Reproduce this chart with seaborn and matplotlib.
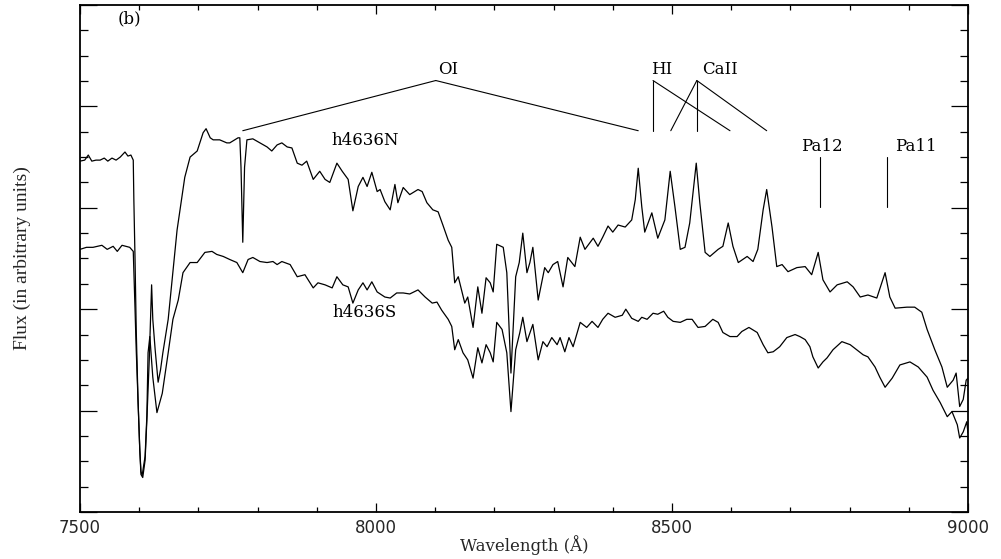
import numpy as np
import pandas as pd
import matplotlib
matplotlib.use("Agg")
import matplotlib.pyplot as plt
from matplotlib.ticker import MultipleLocator, NullFormatter
import seaborn as sns

# ---------------- data ----------------
n_wave = [7500, 7508, 7514, 7520, 7527, 7534, 7541, 7547, 7554, 7561, 7568, 7576, 7581, 7586,
          7590, 7591, 7593, 7595, 7598, 7601, 7603, 7606, 7610, 7613, 7617, 7621, 7623, 7627,
          7632, 7636, 7640, 7649, 7664, 7677, 7686, 7698, 7708, 7713, 7720, 7725, 7736, 7748,
          7753, 7767, 7770, 7772, 7775, 7778, 7782, 7792, 7804, 7816, 7824, 7833, 7841, 7850,
          7858, 7867, 7875, 7883, 7894, 7905, 7914, 7922, 7934, 7943, 7953, 7961, 7970, 7978,
          7985, 7993, 8002, 8007, 8015, 8024, 8032, 8037, 8046, 8057, 8071, 8078, 8086, 8096,
          8105, 8113, 8122, 8128, 8133, 8139, 8150, 8155, 8164, 8172, 8179, 8186, 8193, 8198,
          8204, 8215, 8221, 8228, 8236, 8242, 8248, 8255, 8260, 8265, 8274, 8285, 8291, 8299,
          8307, 8316, 8324, 8336, 8345, 8353, 8367, 8375, 8383, 8392, 8400, 8409, 8421, 8432,
          8438, 8443, 8449, 8454, 8466, 8476, 8488, 8497, 8505, 8514, 8522, 8530, 8541, 8547,
          8556, 8564, 8578, 8586, 8595, 8603, 8612, 8627, 8637, 8645, 8654, 8660, 8669, 8677,
          8686, 8696, 8711, 8725, 8736, 8747, 8755, 8767, 8779, 8796, 8806, 8818, 8831, 8846,
          8860, 8868, 8877, 8897, 8910, 8922, 8931, 8944, 8956, 8965, 8975, 8980, 8986, 8992,
          8997, 9000]
n_flux = [3.46, 3.47, 3.52, 3.46, 3.47, 3.47, 3.49, 3.46, 3.49, 3.47, 3.50, 3.55, 3.51, 3.52,
          3.47, 3.08, 2.49, 1.80, 1.11, 0.61, 0.37, 0.34, 0.51, 0.91, 1.50, 2.24, 1.90, 1.60,
          1.28, 1.40, 1.57, 1.90, 2.78, 3.30, 3.50, 3.56, 3.74, 3.78, 3.69, 3.67, 3.67, 3.64,
          3.64, 3.69, 3.69, 3.40, 2.66, 3.40, 3.67, 3.68, 3.64, 3.60, 3.56, 3.62, 3.64, 3.60,
          3.59, 3.44, 3.42, 3.46, 3.28, 3.36, 3.28, 3.25, 3.44, 3.36, 3.28, 2.97, 3.21, 3.30,
          3.21, 3.35, 3.16, 3.18, 3.06, 2.98, 3.23, 3.05, 3.20, 3.13, 3.18, 3.16, 3.05, 2.98,
          2.96, 2.83, 2.68, 2.61, 2.26, 2.32, 2.06, 2.12, 1.82, 2.22, 1.96, 2.31, 2.26, 2.17,
          2.64, 2.61, 2.36, 1.37, 2.32, 2.46, 2.75, 2.36, 2.46, 2.61, 2.09, 2.41, 2.36, 2.44,
          2.47, 2.22, 2.51, 2.42, 2.71, 2.59, 2.70, 2.62, 2.71, 2.82, 2.76, 2.83, 2.81, 2.88,
          3.08, 3.39, 3.01, 2.76, 2.95, 2.70, 2.88, 3.36, 3.01, 2.59, 2.61, 2.85, 3.44, 3.05,
          2.56, 2.52, 2.59, 2.62, 2.85, 2.62, 2.46, 2.52, 2.47, 2.59, 2.98, 3.18, 2.81, 2.42,
          2.44, 2.37, 2.41, 2.42, 2.34, 2.56, 2.29, 2.17, 2.24, 2.27, 2.22, 2.12, 2.14, 2.11,
          2.36, 2.12, 2.01, 2.02, 2.02, 1.97, 1.80, 1.60, 1.43, 1.23, 1.30, 1.37, 1.04, 1.11,
          1.30, 1.32]

s_wave = [7500, 7511, 7522, 7537, 7546, 7556, 7563, 7571, 7584, 7590, 7591, 7593, 7595, 7598,
          7601, 7603, 7605, 7610, 7613, 7615, 7618, 7623, 7630, 7639, 7649, 7657, 7666, 7674,
          7686, 7698, 7711, 7723, 7731, 7742, 7753, 7765, 7775, 7784, 7792, 7804, 7816, 7826,
          7833, 7841, 7855, 7867, 7880, 7894, 7902, 7914, 7926, 7934, 7944, 7953, 7961, 7970,
          7978, 7985, 7993, 8002, 8015, 8024, 8035, 8046, 8057, 8071, 8083, 8095, 8103, 8111,
          8122, 8128, 8133, 8139, 8147, 8155, 8164, 8172, 8179, 8186, 8193, 8198, 8204, 8213,
          8221, 8228, 8236, 8243, 8248, 8255, 8265, 8274, 8282, 8289, 8297, 8306, 8311, 8319,
          8326, 8333, 8345, 8356, 8365, 8375, 8383, 8392, 8404, 8416, 8422, 8432, 8443, 8449,
          8458, 8468, 8476, 8486, 8493, 8502, 8514, 8525, 8534, 8544, 8556, 8569, 8578, 8586,
          8598, 8610, 8618, 8630, 8644, 8654, 8662, 8671, 8682, 8694, 8708, 8716, 8725, 8733,
          8738, 8747, 8755, 8762, 8772, 8787, 8801, 8812, 8823, 8831, 8843, 8851, 8860, 8872,
          8885, 8902, 8916, 8931, 8941, 8953, 8965, 8973, 8982, 8986, 8992, 8998, 9000]
s_flux = [2.59, 2.61, 2.61, 2.63, 2.59, 2.62, 2.57, 2.63, 2.61, 2.57, 2.39, 2.00, 1.60, 1.10,
          0.62, 0.40, 0.36, 0.55, 0.95, 1.57, 1.73, 1.33, 0.98, 1.17, 1.57, 1.90, 2.09, 2.36,
          2.46, 2.46, 2.56, 2.57, 2.54, 2.52, 2.49, 2.46, 2.36, 2.49, 2.51, 2.47, 2.46, 2.47,
          2.44, 2.47, 2.44, 2.32, 2.34, 2.21, 2.26, 2.24, 2.21, 2.32, 2.24, 2.22, 2.06, 2.19,
          2.26, 2.19, 2.27, 2.17, 2.12, 2.11, 2.16, 2.16, 2.15, 2.19, 2.12, 2.06, 2.07, 1.99,
          1.90, 1.83, 1.60, 1.70, 1.57, 1.50, 1.32, 1.62, 1.47, 1.65, 1.57, 1.48, 1.87, 1.80,
          1.57, 0.99, 1.60, 1.77, 1.92, 1.68, 1.85, 1.50, 1.68, 1.63, 1.72, 1.65, 1.72, 1.58,
          1.72, 1.63, 1.87, 1.82, 1.88, 1.82, 1.90, 1.96, 1.92, 1.94, 2.00, 1.91, 1.88, 1.92,
          1.90, 1.96, 1.95, 1.98, 1.92, 1.88, 1.87, 1.90, 1.90, 1.82, 1.83, 1.90, 1.87, 1.77,
          1.73, 1.73, 1.78, 1.82, 1.77, 1.65, 1.57, 1.58, 1.63, 1.72, 1.75, 1.73, 1.70, 1.63,
          1.53, 1.42, 1.48, 1.52, 1.60, 1.68, 1.65, 1.60, 1.55, 1.53, 1.43, 1.33, 1.23, 1.32,
          1.45, 1.48, 1.43, 1.33, 1.20, 1.08, 0.94, 0.99, 0.86, 0.73, 0.79, 0.89, 0.78]

# line identifications: (label, apex wavelength, target wavelengths)
oi_label, oi_apex, oi_targets = "OI", 8101, [7775, 8443]
hi_label, hi_apex, hi_targets = "HI", 8468, [8468, 8598]
ca_label, ca_apex, ca_targets = "CaII", 8542, [8498, 8542, 8660]
pa_labels = ["Pa12", "Pa11"]
pa_waves = [8750, 8863]
spec_labels = ["h4636N", "h4636S"]

# ---------------- figure ----------------
sns.set_theme(style="ticks")
plt.rcParams["font.family"] = ["DejaVu Serif", "DejaVu Sans"]

fig = plt.figure(figsize=(10.01, 5.59), dpi=100)
ax = fig.add_axes([0.0799, 0.0841, 0.8871, 0.9070])

df_n = pd.DataFrame({"Wavelength": n_wave, "Flux": n_flux})
df_s = pd.DataFrame({"Wavelength": s_wave, "Flux": s_flux})
sns.lineplot(data=df_n, x="Wavelength", y="Flux", ax=ax, color="black",
             linewidth=0.9, sort=False, estimator=None)
sns.lineplot(data=df_s, x="Wavelength", y="Flux", ax=ax, color="black",
             linewidth=0.9, sort=False, estimator=None)

ax.set_xlim(7500, 9000)
ax.set_ylim(0, 5)

# annotation geometry (data units)
apex_y, foot_y = 4.255, 3.76
lab_y = 4.36
lw_ann = 0.8
for apex, targets in [(oi_apex, oi_targets), (hi_apex, hi_targets), (ca_apex, ca_targets)]:
    for t in targets:
        ax.plot([apex, t], [apex_y, foot_y], color="black", lw=lw_ann)

txt_kw = dict(fontsize=12, color="black", ha="center", va="center")
ax.text(8122, lab_y, oi_label, **txt_kw)
ax.text(8483, lab_y, hi_label, **txt_kw)
ax.text(8581, lab_y, ca_label, **txt_kw)

for w in pa_waves:
    ax.plot([w, w], [3.50, 3.01], color="black", lw=lw_ann)
ax.text(8753, 3.60, pa_labels[0], **txt_kw)
ax.text(8912, 3.60, pa_labels[1], **txt_kw)

ax.text(7982, 3.66, spec_labels[0], **txt_kw)
ax.text(7980, 1.97, spec_labels[1], **txt_kw)
ax.text(7583, 4.86, "(b)", **txt_kw)

# axes styling
for sp in ax.spines.values():
    sp.set_visible(True)
    sp.set_linewidth(1.3)
    sp.set_color("black")

ax.xaxis.set_major_locator(MultipleLocator(500))
ax.xaxis.set_minor_locator(MultipleLocator(100))
ax.yaxis.set_major_locator(MultipleLocator(1))
ax.yaxis.set_minor_locator(MultipleLocator(0.25))
ax.yaxis.set_major_formatter(NullFormatter())

ax.tick_params(axis="x", which="both", direction="in", top=True, bottom=True,
               color="black", width=0.9, pad=5, labelsize=12)
ax.tick_params(axis="x", which="major", length=6.5)
ax.tick_params(axis="x", which="minor", length=3.8)
ax.tick_params(axis="y", which="both", direction="in", left=True, right=True,
               color="black", width=0.9, labelleft=False)
ax.tick_params(axis="y", which="major", length=12)
ax.tick_params(axis="y", which="minor", length=5.8)
for lab in ax.get_xticklabels():
    lab.set_family(["DejaVu Sans"])

ax.set_xlabel("Wavelength (Å)", fontsize=12)
ax.xaxis.set_label_coords(0.5, -0.065)
ax.xaxis.label.set_va("center")
ax.set_ylabel("Flux (in arbitrary units)", fontsize=14,
              family=["Liberation Serif", "DejaVu Serif"])
ax.yaxis.set_label_coords(-0.065, 0.5)
ax.yaxis.label.set_va("center")
ax.grid(False)

fig.savefig("out.png", dpi=100)
